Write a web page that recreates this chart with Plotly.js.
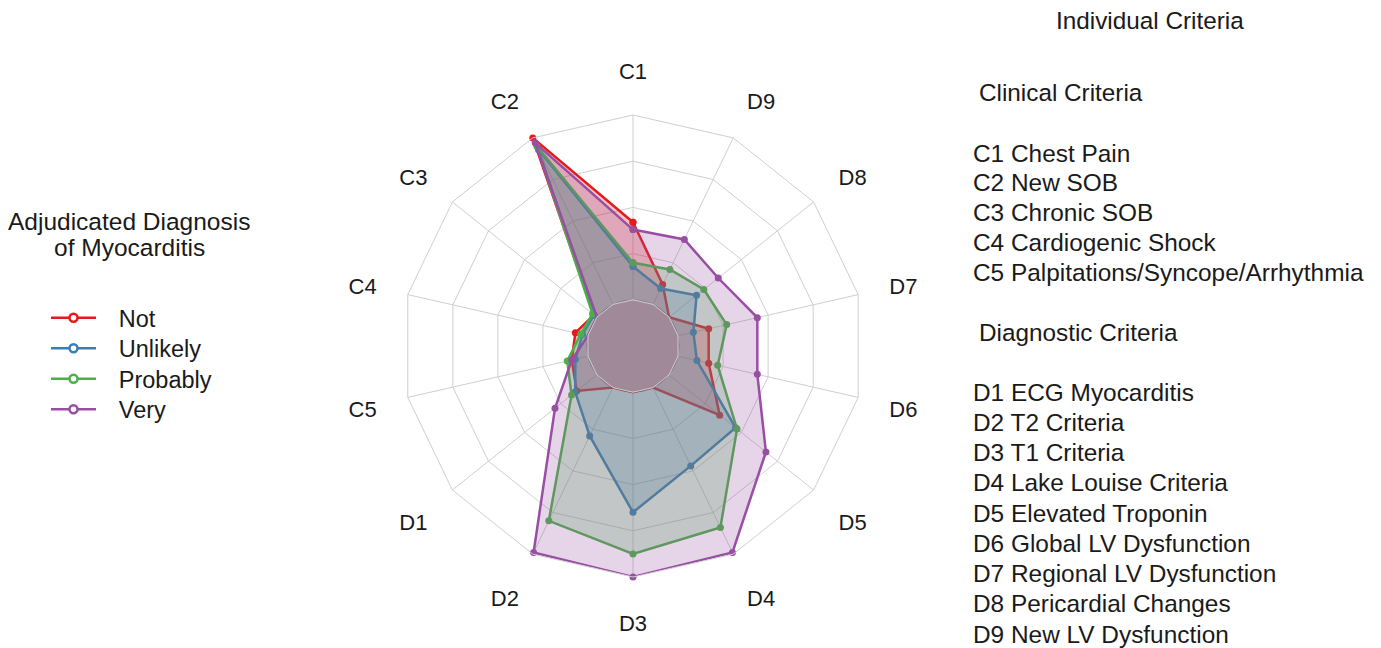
<!DOCTYPE html>
<html>
<head>
<meta charset="utf-8">
<script src="https://cdn.plot.ly/plotly-3.0.1.min.js"></script>
<style>html,body{margin:0;padding:0;background:#fff;}#chart{width:1381px;height:648px;}</style>
</head>
<body>
<div id="chart"></div>
<script>
const categories = ['C1','C2','C3','C4','C5','D1','D2','D3','D4','D5','D6','D7','D8','D9'];
const seriesNames = ['Not','Unlikely','Probably','Very'];
const notVals      = [0.42, 1.00, 0.02, 0.07, 0.09, 0.14, 0.00, 0.00, 0.00, 0.35, 0.17, 0.17, 0.00, 0.12];
const unlikelyVals = [0.18, 0.93, 0.02, 0.03, 0.07, 0.15, 0.29, 0.65, 0.47, 0.46, 0.105, 0.085, 0.19, 0.095];
const probablyVals = [0.20, 0.95, 0.03, 0.04, 0.115, 0.175, 0.80, 0.875, 0.84, 0.47, 0.22, 0.27, 0.24, 0.21];
const veryVals     = [0.38, 0.97, 0.00, 0.00, 0.09, 0.29, 0.99, 1.00, 0.99, 0.67, 0.44, 0.44, 0.34, 0.39];
const radialTicks = [0.25, 0.5, 0.75, 1];

const clinicalLines = ['C1 Chest Pain','C2 New SOB','C3 Chronic SOB','C4 Cardiogenic Shock','C5 Palpitations/Syncope/Arrhythmia'];
const diagnosticLines = ['D1 ECG Myocarditis','D2 T2 Criteria','D3 T1 Criteria','D4 Lake Louise Criteria','D5 Elevated Troponin','D6 Global LV Dysfunction','D7 Regional LV Dysfunction','D8 Pericardial Changes','D9 New LV Dysfunction'];

const colors = ['#E41A1C','#377EB8','#4DAF4A','#984EA3'];
const fills = ['rgba(228,26,28,0.27)','rgba(55,126,184,0.27)','rgba(77,175,74,0.25)','rgba(152,78,163,0.24)'];
const allVals = [notVals, unlikelyVals, probablyVals, veryVals];

const W = 1381, H = 648;
const FONT = 'Liberation Sans, Arial, sans-serif';
const px = x => x / W;
const py = y => 1 - y / H;
const GRID = '#cfcfcf';

const traces = [];
allVals.forEach((vals, i) => {
  traces.push({
    type: 'scatterpolar',
    r: vals.concat([vals[0]]),
    theta: categories.concat([categories[0]]),
    mode: 'lines+markers',
    fill: 'toself',
    fillcolor: fills[i],
    line: {color: colors[i], width: 2.5},
    marker: {color: colors[i], size: 7},
    name: seriesNames[i],
    showlegend: false,
    cliponaxis: false,
    hoverinfo: 'skip'
  });
});
// legend entries, one legend box each so the row spacing matches
const pad = '\u00a0\u00a0\u2009';
const legendIds = ['legend', 'legend2', 'legend3', 'legend4'];
seriesNames.forEach((n, i) => {
  traces.push({
    type: 'scatterpolar',
    r: [null], theta: [categories[0]],
    mode: 'lines+markers',
    line: {color: colors[i], width: 2.5},
    marker: {color: '#ffffff', size: 8, line: {color: colors[i], width: 2.5}},
    name: pad + n,
    legend: legendIds[i],
    showlegend: true
  });
});

const annotations = [];
function addText(text, x, y, size, anchor) {
  annotations.push({text: text, x: px(x), y: py(y), xref: 'paper', yref: 'paper',
    xanchor: anchor || 'left', yanchor: 'middle', showarrow: false,
    font: {family: FONT, size: size, color: '#1a1a1a'}});
}
addText('Adjudicated Diagnosis', 129, 222, 24.5, 'center');
addText('of Myocarditis', 129, 248, 24.5, 'center');
addText('Individual Criteria', 1150, 20, 24.3, 'center');
addText('Clinical Criteria', 977, 93, 24.3);
clinicalLines.forEach((t, i) => addText(t, 971, 153 + i * 29.8, 24.4));
addText('Diagnostic Criteria', 977, 333, 24.3);
diagnosticLines.forEach((t, i) => addText(t, 971, 392 + i * 30.25, 24.4));

const cx = 633, cy = 346, R = 231, HOLE = 0.2;
const legendRows = [318, 348.5, 379, 409.5];
const layout = {
  width: W, height: H,
  margin: {l: 0, r: 0, t: 0, b: 0},
  paper_bgcolor: '#ffffff',
  font: {family: FONT, color: '#1a1a1a'},
  showlegend: true,
  shapes: [{
    type: 'circle', xref: 'paper', yref: 'paper', layer: 'below',
    x0: px(cx - R * HOLE), x1: px(cx + R * HOLE),
    y0: py(cy + R * HOLE), y1: py(cy - R * HOLE),
    fillcolor: '#a08a99', line: {color: '#b9adb5', width: 1}
  }],
  polar: {
    domain: {x: [px(cx - R), px(cx + R)], y: [py(cy + R), py(cy - R)]},
    bgcolor: 'rgba(0,0,0,0)',
    gridshape: 'linear',
    hole: HOLE,
    radialaxis: {
      range: [0, 1], tickvals: radialTicks, showticklabels: false,
      ticks: '', showline: false, gridcolor: GRID, gridwidth: 1
    },
    angularaxis: {
      type: 'category', categoryorder: 'array', categoryarray: categories,
      rotation: 90, direction: 'counterclockwise',
      showline: true, linecolor: GRID, linewidth: 1,
      gridcolor: GRID, gridwidth: 1,
      ticks: 'outside', ticklen: 27, tickcolor: 'rgba(0,0,0,0)',
      tickfont: {family: FONT, size: 22, color: '#1a1a1a'}
    }
  },
  annotations: annotations
};
legendIds.forEach((id, i) => {
  layout[id] = {
    x: px(46), y: py(legendRows[i]), xanchor: 'left', yanchor: 'middle',
    font: {family: FONT, size: 23.5, color: '#1a1a1a'},
    itemwidth: 45, bgcolor: 'rgba(0,0,0,0)'
  };
});

Plotly.newPlot('chart', traces, layout, {displayModeBar: false, staticPlot: true});
</script>
</body>
</html>
